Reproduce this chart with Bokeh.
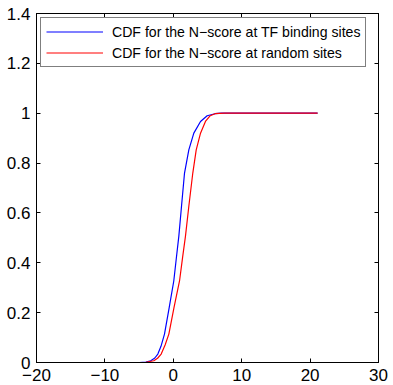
from bokeh.plotting import figure
from bokeh.models import (Range1d, FixedTicker, LinearAxis, Legend, LegendItem,
                          CustomJSTickFormatter)
from bokeh.embed import file_html
from bokeh.resources import INLINE

# data
x_tf = [-14.5, -5, -4, -3.3, -2.7, -2.26, -1.8, -1.29, -0.6, 0.07, 0.45, 0.81,
        1.2, 1.64, 2.27, 3.0, 3.98, 4.95, 6.1, 7.0, 21.1]
cdf_tf = [0, 0, 0.002, 0.007, 0.018, 0.034, 0.065, 0.114, 0.22, 0.327, 0.42, 0.507,
          0.627, 0.76, 0.853, 0.92, 0.967, 0.99, 0.998, 1.0, 1.0]
x_rand = [-14.6, -5, -4, -2.85, -2.3, -1.77, -1.2, -0.65, 0.1, 0.91, 1.35, 1.78,
          2.27, 2.85, 3.35, 3.98, 4.7, 5.4, 6.1, 7.5, 21.1]
cdf_rand = [0, 0, 0.001, 0.007, 0.017, 0.034, 0.07, 0.114, 0.22, 0.327, 0.42, 0.507,
            0.627, 0.76, 0.853, 0.92, 0.967, 0.99, 0.998, 1.0, 1.0]
x_ticks = [-20, -10, 0, 10, 20, 30]
y_ticks = [0, 0.2, 0.4, 0.6, 0.8, 1.0, 1.2, 1.4]
labels = ["CDF for the N\u2212score at TF binding sites",
          "CDF for the N\u2212score at random sites"]

FONT = "Liberation Sans"

p = figure(width=393, height=385, output_backend="svg", toolbar_location=None,
           x_range=Range1d(-20, 30), y_range=Range1d(0, 1.4),
           x_axis_location=None, y_axis_location=None,
           min_border_left=36, min_border_right=15, min_border_top=13,
           min_border_bottom=23)
p.grid.visible = False
p.outline_line_color = "black"
p.outline_line_width = 1
p.background_fill_color = "white"
p.border_fill_color = "white"

fmt = CustomJSTickFormatter(code="return (Math.round(tick*10)/10).toString().replace('-', '\u2212');")


def make_axis(ticks, show_labels):
    ax = LinearAxis(ticker=FixedTicker(ticks=ticks), formatter=fmt)
    ax.axis_line_color = "black"
    ax.major_tick_line_color = "black"
    ax.major_tick_in = 4
    ax.major_tick_out = 0
    ax.minor_tick_line_color = None
    ax.major_label_text_font = FONT
    ax.major_label_text_color = "black"
    if show_labels:
        ax.major_label_text_font_size = "17px"
        ax.major_label_standoff = 6
    else:
        ax.major_label_text_font_size = "0px"
        ax.major_label_standoff = 0
        ax.major_label_text_color = None
    return ax


p.add_layout(make_axis(x_ticks, True), "below")
p.add_layout(make_axis(y_ticks, True), "left")
p.add_layout(make_axis(x_ticks, False), "above")
p.add_layout(make_axis(y_ticks, False), "right")

r1 = p.line(x_tf, cdf_tf, line_color="#0000ff", line_width=1.2)
r2 = p.line(x_rand, cdf_rand, line_color="#ff0000", line_width=1.2)

legend = Legend(items=[LegendItem(label=labels[0], renderers=[r1]),
                       LegendItem(label=labels[1], renderers=[r2])],
                location="top_left", margin=4, padding=5, spacing=4,
                glyph_width=57, glyph_height=17, label_height=17,
                label_standoff=9, label_text_font=FONT,
                label_text_font_size="14.1px", label_text_color="black",
                border_line_color="black", border_line_width=1,
                background_fill_color="white", background_fill_alpha=1)
p.add_layout(legend)

open("out.html", "w").write(file_html(p, INLINE))
